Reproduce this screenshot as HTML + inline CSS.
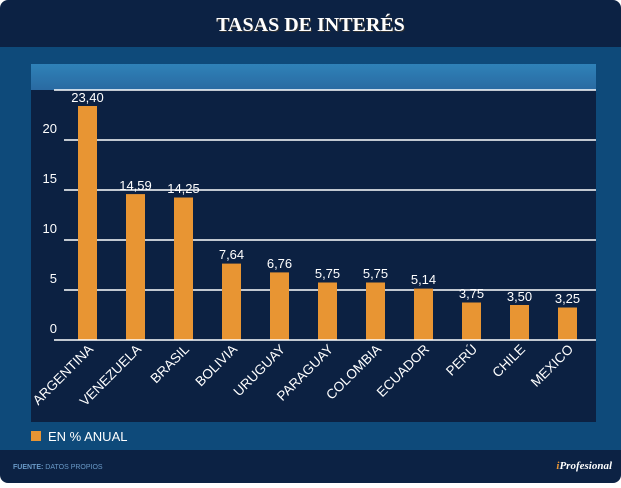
<!DOCTYPE html>
<html><head><meta charset="utf-8"><style>
body{margin:0;background:#fff;width:621px;height:483px;overflow:hidden;font-family:"Liberation Sans",sans-serif}
</style></head><body>
<svg width="621" height="483" xmlns="http://www.w3.org/2000/svg" font-family="Liberation Sans, sans-serif">
<defs><linearGradient id="g" x1="0" y1="0" x2="0" y2="1"><stop offset="0" stop-color="#2f82b8"/><stop offset="1" stop-color="#2968a0"/></linearGradient></defs>
<rect x="0" y="0" width="621" height="483" rx="8" fill="#0c2244"/>
<rect x="0" y="47" width="621" height="403" fill="#0e4a7a"/>
<text x="310.5" y="31" text-anchor="middle" font-family="Liberation Serif, serif" font-weight="bold" font-size="20" fill="#333" dx="1" dy="1">TASAS DE INTERÉS</text>
<text x="310.5" y="31" text-anchor="middle" font-family="Liberation Serif, serif" font-weight="bold" font-size="20" fill="#fff">TASAS DE INTERÉS</text>
<rect x="31" y="64" width="565" height="28" fill="url(#g)"/>
<rect x="31" y="90" width="565" height="332" fill="#0c2142"/>
<g stroke="#fff" stroke-width="1.5">
<line x1="54" y1="90" x2="596" y2="90"/>
<line x1="64" y1="140" x2="596" y2="140"/><line x1="64" y1="190" x2="596" y2="190"/>
<line x1="64" y1="240" x2="596" y2="240"/><line x1="64" y1="290" x2="596" y2="290"/>
</g>
<g fill="#fff" font-size="13" text-anchor="end">
<text x="57" y="133">20</text><text x="57" y="183">15</text><text x="57" y="233">10</text><text x="57" y="283">5</text><text x="57" y="333">0</text>
</g>
<g fill="#e89533">
<rect x="78" y="106" width="19" height="234"/>
<rect x="126" y="194.1" width="19" height="145.9"/>
<rect x="174" y="197.5" width="19" height="142.5"/>
<rect x="222" y="263.6" width="19" height="76.4"/>
<rect x="270" y="272.4" width="19" height="67.6"/>
<rect x="318" y="282.5" width="19" height="57.5"/>
<rect x="366" y="282.5" width="19" height="57.5"/>
<rect x="414" y="288.6" width="19" height="51.4"/>
<rect x="462" y="302.5" width="19" height="37.5"/>
<rect x="510" y="305" width="19" height="35"/>
<rect x="558" y="307.5" width="19" height="32.5"/>
</g>
<line x1="54" y1="340" x2="596" y2="340" stroke="#fff" stroke-width="1.5"/>
<g fill="#fff" font-size="13" text-anchor="middle">
<text x="87.5" y="102">23,40</text><text x="135.5" y="190">14,59</text><text x="183.5" y="193">14,25</text>
<text x="231.5" y="259">7,64</text><text x="279.5" y="268">6,76</text><text x="327.5" y="278">5,75</text>
<text x="375.5" y="278">5,75</text><text x="423.5" y="284">5,14</text><text x="471.5" y="298">3,75</text>
<text x="519.5" y="301">3,50</text><text x="567.5" y="303">3,25</text>
</g>
<g fill="#fff" font-size="13.5" text-anchor="end">
<text transform="translate(94,350) rotate(-45)">ARGENTINA</text>
<text transform="translate(142,350) rotate(-45)">VENEZUELA</text>
<text transform="translate(190,350) rotate(-45)">BRASIL</text>
<text transform="translate(238,350) rotate(-45)">BOLIVIA</text>
<text transform="translate(286,350) rotate(-45)">URUGUAY</text>
<text transform="translate(334,350) rotate(-45)">PARAGUAY</text>
<text transform="translate(382,350) rotate(-45)">COLOMBIA</text>
<text transform="translate(430,350) rotate(-45)">ECUADOR</text>
<text transform="translate(478,350) rotate(-45)">PERÚ</text>
<text transform="translate(526,350) rotate(-45)">CHILE</text>
<text transform="translate(574,350) rotate(-45)">MEXICO</text>
</g>
<rect x="31" y="431" width="10" height="10" fill="#e89533"/>
<text x="48" y="441" fill="#fff" font-size="13">EN % ANUAL</text>
<text x="13" y="469" font-size="7" fill="#6a9ac8"><tspan font-weight="bold">FUENTE:</tspan> DATOS PROPIOS</text>
<text x="612" y="469" text-anchor="end" font-family="Liberation Serif, serif" font-style="italic" font-weight="bold" font-size="11" fill="#fff"><tspan fill="#e89533">i</tspan>Profesional</text>
</svg>
</body></html>
